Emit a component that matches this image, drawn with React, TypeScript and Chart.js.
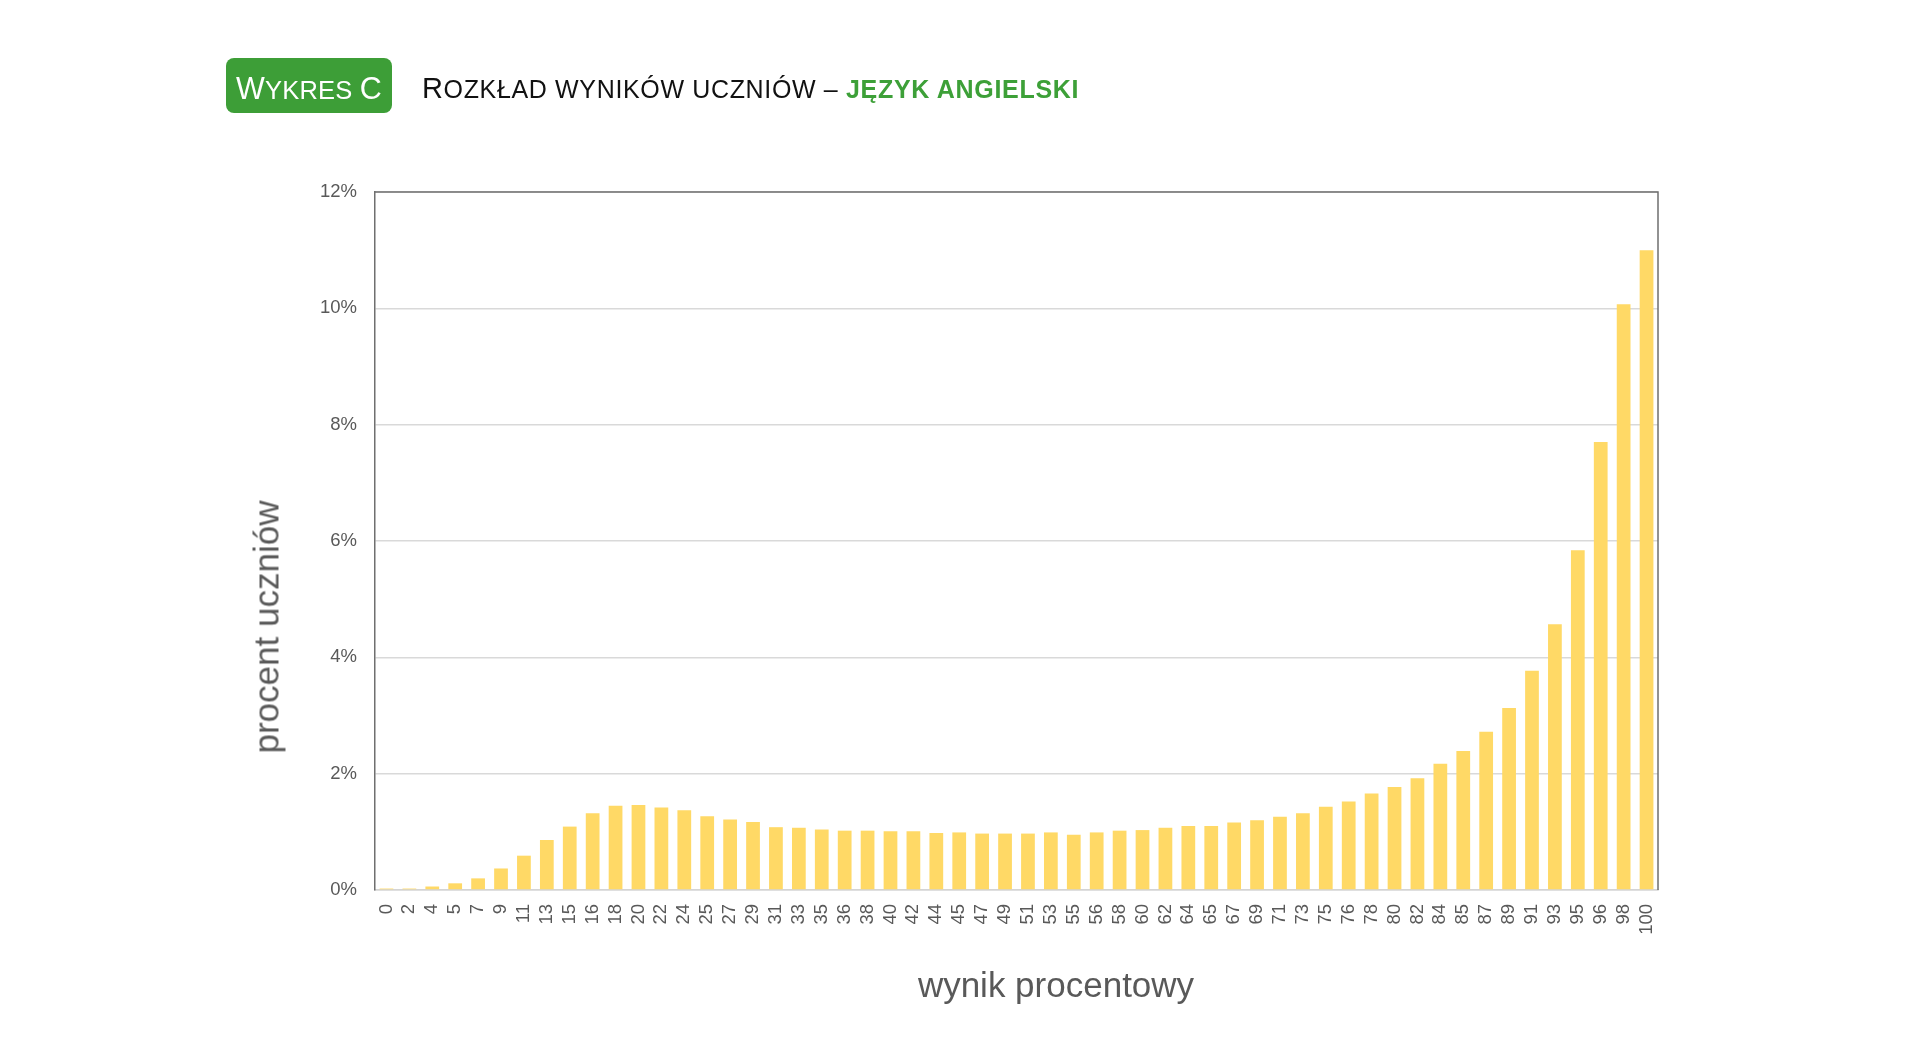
import React, { useEffect, useRef } from "react";
import { Chart, registerables } from "chart.js";

Chart.register(...registerables);

const categories = [
  "0", "2", "4", "5", "7", "9", "11", "13", "15", "16", "18", "20", "22", "24",
  "25", "27", "29", "31", "33", "35", "36", "38", "40", "42", "44", "45", "47",
  "49", "51", "53", "55", "56", "58", "60", "62", "64", "65", "67", "69", "71",
  "73", "75", "76", "78", "80", "82", "84", "85", "87", "89", "91", "93", "95",
  "96", "98", "100",
];

const percentStudents = [
  0.025, 0.025, 0.06, 0.115, 0.2, 0.37, 0.59, 0.86, 1.09, 1.32, 1.45, 1.46, 1.42,
  1.37, 1.27, 1.21, 1.17, 1.08, 1.07, 1.04, 1.02, 1.02, 1.01, 1.01, 0.98, 0.99,
  0.97, 0.97, 0.97, 0.99, 0.95, 0.99, 1.02, 1.03, 1.07, 1.1, 1.1, 1.16, 1.2,
  1.26, 1.32, 1.43, 1.52, 1.66, 1.77, 1.92, 2.17, 2.39, 2.72, 3.13, 3.77, 4.57,
  5.84, 7.7, 10.07, 11.0,
];

const yMin = 0;
const yMax = 12;
const yStep = 2;

const badgeText = { big1: "W", small: "YKRES", big2: "C" };
const titleMain = { big: "R", rest: "OZKŁAD WYNIKÓW UCZNIÓW –" };
const titleSubject = "JĘZYK ANGIELSKI";
const yTitle = "procent uczniów";
const xTitle = "wynik procentowy";

const FONT = "'Liberation Sans', Arial, Helvetica, sans-serif";

const frameBorder = {
  id: "frameBorder",
  afterDatasetsDraw(chart: any) {
    const { ctx, chartArea } = chart;
    ctx.save();
    ctx.strokeStyle = "#6f6f6f";
    ctx.lineWidth = 1.5;
    ctx.beginPath();
    ctx.moveTo(chartArea.left, chartArea.top);
    ctx.lineTo(chartArea.right, chartArea.top);
    ctx.lineTo(chartArea.right, chartArea.bottom);
    ctx.stroke();
    ctx.restore();
  },
};

export default function App() {
  const canvasRef = useRef<HTMLCanvasElement | null>(null);

  useEffect(() => {
    if (!canvasRef.current) return;
    const chart = new Chart(canvasRef.current, {
      type: "bar",
      data: {
        labels: categories,
        datasets: [
          {
            data: percentStudents,
            backgroundColor: "#FFD966",
            borderWidth: 0,
            barPercentage: 0.6,
            categoryPercentage: 1,
          },
        ],
      },
      options: {
        responsive: false,
        animation: false,
        events: [],
        layout: { padding: { left: 290, right: 262, top: 192, bottom: 83 } },
        plugins: {
          legend: { display: false },
          tooltip: { enabled: false },
          title: { display: false },
        },
        scales: {
          x: {
            offset: true,
            grid: { display: false, drawTicks: false },
            border: { display: true, color: "#d4d4d4", width: 1.5 },
            ticks: {
              autoSkip: false,
              minRotation: 90,
              maxRotation: 90,
              padding: 14,
              color: "#595959",
              font: { family: FONT, size: 18.5 },
            },
            afterFit: (scale: any) => {
              scale.height = 80;
            },
          },
          y: {
            min: yMin,
            max: yMax,
            grid: { color: "#d9d9d9", lineWidth: 1.5, drawTicks: false },
            border: { display: true, color: "#6f6f6f", width: 1.5 },
            ticks: {
              stepSize: yStep,
              padding: 18,
              color: "#595959",
              font: { family: FONT, size: 18.5 },
              callback: (v: any) => `${v}%`,
            },
            afterFit: (scale: any) => {
              scale.width = 85;
            },
          },
        },
      },
      plugins: [frameBorder],
    });
    return () => chart.destroy();
  }, []);

  return (
    <div style={{ position: "absolute", left: 0, top: 0, width: 1920, height: 1053, background: "#fff", overflow: "hidden", fontFamily: FONT }}>
      <canvas ref={canvasRef} width={1920} height={1053} style={{ position: "absolute", left: 0, top: 0, width: 1920, height: 1053 }} />
      <div
        style={{
          position: "absolute",
          left: 226,
          top: 58,
          width: 166,
          height: 55,
          background: "#3D9E37",
          borderRadius: 8,
        }}
      />
      <div
        style={{
          position: "absolute",
          left: 226,
          top: 60,
          width: 166,
          height: 56,
          lineHeight: "56px",
          color: "#fff",
          textAlign: "center",
          whiteSpace: "nowrap",
          letterSpacing: 0.2,
        }}
      >
        <span style={{ fontSize: 30.5 }}>{badgeText.big1}</span>
        <span style={{ fontSize: 25.5 }}>{badgeText.small} </span>
        <span style={{ fontSize: 30.5 }}>{badgeText.big2}</span>
      </div>
      <div
        style={{
          position: "absolute",
          left: 422,
          top: 60,
          height: 56,
          lineHeight: "56px",
          whiteSpace: "nowrap",
          color: "#111",
          letterSpacing: 0.65,
        }}
      >
        <span style={{ fontSize: 29 }}>{titleMain.big}</span>
        <span style={{ fontSize: 25 }}>{titleMain.rest} </span>
        <span style={{ fontSize: 25, fontWeight: "bold", color: "#3DA038", letterSpacing: 0.7 }}>{titleSubject}</span>
      </div>
      <div
        style={{
          position: "absolute",
          left: 266,
          top: 627,
          transform: "translate(-50%, -50%) rotate(-90deg)",
          fontSize: 35,
          lineHeight: 1,
          color: "#595959",
          whiteSpace: "nowrap",
        }}
      >
        {yTitle}
      </div>
      <div
        style={{
          position: "absolute",
          left: 1056,
          top: 967,
          transform: "translateX(-50%)",
          fontSize: 35,
          lineHeight: 1,
          color: "#595959",
          whiteSpace: "nowrap",
        }}
      >
        {xTitle}
      </div>
    </div>
  );
}
